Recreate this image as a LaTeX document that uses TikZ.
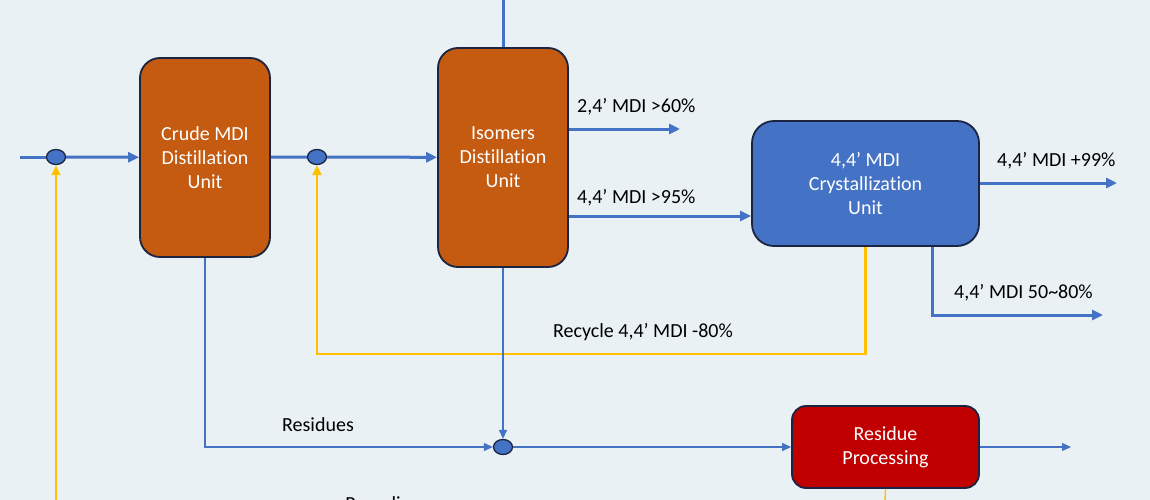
\documentclass[tikz,border=0pt]{standalone}
\usepackage{fontspec}
\setmainfont[Ligatures=NoCommon]{Carlito}
\usetikzlibrary{arrows.meta,shapes.geometric}
\definecolor{bg}{HTML}{E9F1F4}
\definecolor{flow}{HTML}{4472C4}
\definecolor{orng}{HTML}{C55A11}
\definecolor{redb}{HTML}{C00000}
\definecolor{yel}{HTML}{FFC000}
\definecolor{edge}{HTML}{1B2440}
\tikzset{
  unit/.style={draw=edge, line width=1.8pt, text=white, align=center, font=\fontsize{20}{24}\selectfont, inner sep=0pt},
  junc/.style={ellipse, draw=edge, line width=1.3pt, fill=flow, minimum width=19pt, minimum height=15pt, inner sep=0pt},
  thickflow/.style={draw=flow, line width=3pt, -{Triangle[length=11pt,width=10pt]}},
  thickline/.style={draw=flow, line width=3pt},
  thinflow/.style={draw=flow, line width=1.2pt, -{Triangle[length=9pt,width=8pt]}},
  thinline/.style={draw=flow, line width=1.2pt},
  recyc/.style={draw=yel, line width=2.6pt, -{Triangle[length=10pt,width=9pt]}},
  recycthin/.style={draw=yel, line width=1.4pt, -{Triangle[length=10pt,width=9pt]}},
  lbl/.style={font=\fontsize{20}{24}\selectfont, text=black, inner sep=0pt}
}
\begin{document}
\begin{tikzpicture}[x=1pt,y=-1pt]
\useasboundingbox (0,0) rectangle (1150,500);
\clip (0,0) rectangle (1150,500);
\fill[bg] (0,0) rectangle (1150,500);

% units
\node[unit, fill=orng, rounded corners=20pt, minimum width=130pt, minimum height=199pt] (crude) at (205,157.5) {Crude MDI\\Distillation\\Unit};
\node[unit, fill=orng, rounded corners=20pt, minimum width=130pt, minimum height=219pt] (iso) at (503,157.5) {Isomers\\Distillation\\Unit};
\node[unit, fill=flow, rounded corners=22pt, minimum width=227pt, minimum height=125pt] (crys) at (865.5,183.5) {4,4’ MDI\\Crystallization\\Unit};
\node[unit, fill=redb, rounded corners=14pt, minimum width=187pt, minimum height=82pt] (res) at (885.5,447) {Residue\\Processing};

% junctions
\node[junc] (j1) at (56,157) {};
\node[junc] (j2) at (317,157) {};
\node[junc] (j3) at (503,447) {};

% free ends
\coordinate (start) at (20,157);
\coordinate (top) at (503,-2);
\coordinate (out24) at (680,129);
\coordinate (y95) at (0,216);
\coordinate (out99) at (1117,183);
\coordinate (c932) at (932,0);
\coordinate (out58) at (1103,315);
\coordinate (ry) at (0,354);
\coordinate (yb1) at (56,502);
\coordinate (yb2) at (885,502);
\coordinate (resout) at (1071,447);

% main flow
\draw[thickline] (start) -- (j1);
\draw[thickflow] (j1) -- (crude);
\draw[thickline] (crude) -- (j2);
\draw[thickflow] (j2) -- (iso);
\draw[thickline] (iso.north) -- (top);
\draw[thickflow] (iso.east |- out24) -- (out24);
\draw[thickflow] (iso.east |- y95) -- (crys.west |- y95);
\draw[thickflow] (crys.east |- out99) -- (out99);
\draw[thickflow] (crys.south -| c932) |- (out58);

% recycle
\draw[recyc] (crys.south) -- (crys.south |- ry) -| (j2.south);
\draw[recycthin] (yb1) -- (j1.south);
\draw[draw=yel, line width=1.4pt] (res.south) -- (yb2);

% residues
\draw[thinflow] (crude.south) |- (j3.west);
\draw[thinflow] (iso.south) -- (j3.north);
\draw[thinflow] (j3.east) -- (res.west);
\draw[thinflow] (res.east) -- (resout);

% labels
\node[lbl, anchor=west] (l24) at (577,107) {2,4’ MDI >60\%};
\node[lbl, anchor=west] (l95) at (577,198) {4,4’ MDI >95\%};
\node[lbl, anchor=west] (l99) at (997,161) {4,4’ MDI +99\%};
\node[lbl, anchor=west] (l58) at (954,293) {4,4’ MDI 50\textasciitilde80\%};
\node[lbl] (lrec) at (643,332) {Recycle 4,4’ MDI -80\%};
\node[lbl] (lres) at (318,425) {Residues};
\node[lbl, anchor=base] (lrcy) at (383,510) {Recycling};
\end{tikzpicture}
\end{document}
